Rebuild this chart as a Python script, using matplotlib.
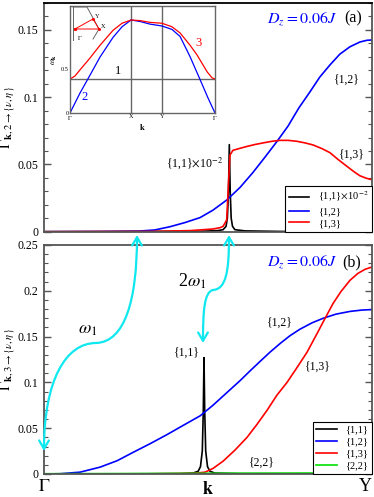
import numpy as np
import matplotlib
matplotlib.use('Agg')
import matplotlib.pyplot as plt
from matplotlib.patches import FancyArrowPatch
from matplotlib.path import Path
from matplotlib.ticker import MultipleLocator

plt.rcParams['font.family'] = ['Liberation Serif', 'DejaVu Serif']
plt.rcParams['mathtext.fontset'] = 'stix'

# ---- panel (a): Gamma_{k,2 -> {nu,eta}} ----
k_a12 = [0, 0.171, 0.287, 0.338, 0.384, 0.430, 0.476, 0.515, 0.558, 0.598, 0.637, 0.674,
         0.710, 0.744, 0.777, 0.811, 0.841, 0.872, 0.902, 0.933, 0.963, 0.985, 1.0]
g_a12 = [0, 0.0001, 0.0004, 0.0013, 0.0037, 0.0068, 0.0105, 0.016, 0.0237, 0.033, 0.044,
         0.0555, 0.067, 0.0785, 0.092, 0.104, 0.115, 0.124, 0.132, 0.1375, 0.141, 0.1423,
         0.1425]

k_a13 = [0, 0.323, 0.445, 0.515, 0.537, 0.546, 0.557, 0.562, 0.567, 0.576, 0.598, 0.619,
         0.643, 0.668, 0.695, 0.720, 0.744, 0.771, 0.796, 0.820, 0.848, 0.872, 0.896, 0.924,
         0.945, 0.963, 0.982, 1.0]
g_a13 = [0, 0.0002, 0.0008, 0.002, 0.003, 0.004, 0.0087, 0.0336, 0.057, 0.0605, 0.062,
         0.0634, 0.0648, 0.066, 0.0672, 0.0679, 0.0679, 0.0672, 0.066, 0.0645, 0.0617,
         0.0587, 0.0538, 0.0485, 0.0446, 0.0416, 0.0398, 0.0386]

k_a11 = [0, 0.476, 0.530, 0.546, 0.555, 0.559, 0.5625, 0.565, 0.5677, 0.5707, 0.5747,
         0.582, 0.613, 0.720, 1.0]
g_a11 = [0, 0.0003, 0.0008, 0.0015, 0.004, 0.01, 0.03, 0.0647, 0.03, 0.01, 0.004,
         0.0015, 0.0006, 0.0002, 0]

# ---- panel (b): Gamma_{k,3 -> {nu,eta}} ----
k_b12 = [0, 0.049, 0.110, 0.171, 0.223, 0.271, 0.323, 0.375, 0.424, 0.476, 0.515, 0.558,
         0.598, 0.628, 0.659, 0.689, 0.720, 0.750, 0.780, 0.817, 0.851, 0.890, 0.933,
         0.970, 1.0]
g_b12 = [0, 0.0003, 0.002, 0.0075, 0.0145, 0.0235, 0.033, 0.043, 0.053, 0.0635, 0.075,
         0.089, 0.102, 0.1125, 0.123, 0.133, 0.1425, 0.151, 0.158, 0.165, 0.170, 0.1745,
         0.1775, 0.179, 0.1795]

k_b13 = [0, 0.323, 0.460, 0.491, 0.515, 0.546, 0.582, 0.619, 0.649, 0.680, 0.710, 0.741,
         0.771, 0.802, 0.832, 0.857, 0.881, 0.905, 0.933, 0.957, 0.979, 1.0]
g_b13 = [0, 0.0002, 0.0008, 0.002, 0.006, 0.014, 0.026, 0.040, 0.054, 0.0695, 0.086,
         0.100, 0.116, 0.133, 0.153, 0.170, 0.186, 0.199, 0.2115, 0.219, 0.2235, 0.226]

k_b11 = [0, 0.415, 0.454, 0.470, 0.477, 0.4826, 0.4857, 0.4878, 0.4899, 0.4930, 0.4985,
         0.506, 0.521, 0.598, 1.0]
g_b11 = [0, 0.0003, 0.001, 0.003, 0.008, 0.025, 0.07, 0.127, 0.07, 0.025, 0.008,
         0.003, 0.001, 0.0003, 0]

k_b22 = [0, 0.232, 0.476, 0.720, 1.0]
g_b22 = [0.0003, 0.0005, 0.0008, 0.001, 0.0012]

# ---- inset: dispersion omega_k along Gamma-X-Y-Gamma ----
q_w2 = [0, 0.069, 0.138, 0.207, 0.297, 0.359, 0.421, 0.483, 0.552, 0.634, 0.703,
        0.759, 0.828, 0.897, 0.952, 1.0]
w2 = [0, 0.227, 0.43, 0.636, 0.86, 0.98, 1.057, 1.04, 1.01, 0.989, 0.95,
      0.87, 0.64, 0.38, 0.17, 0.0]
q_w3 = [0, 0.034, 0.069, 0.138, 0.207, 0.297, 0.359, 0.421, 0.483, 0.552, 0.634,
        0.703, 0.759, 0.828, 0.876, 0.945, 0.979, 1.0]
w3 = [0.386, 0.42, 0.49, 0.625, 0.77, 0.94, 1.02, 1.057, 1.05, 1.03, 1.02,
      0.98, 0.91, 0.77, 0.66, 0.47, 0.40, 0.386]
w1 = 0.386
q_ticks = [0, 0.421, 0.634, 1.0]
q_labels = [r'$\Gamma$', 'X', 'Y', r'$\Gamma$']

W, H = 374, 497
fig = plt.figure(figsize=(W / 100, H / 100), dpi=100)
ax_a = fig.add_axes([44 / W, 1 - 231.7 / H, 328 / W, 228.7 / H])
ax_b = fig.add_axes([44 / W, 1 - 474 / H, 328 / W, 229 / H])

spine_c = '#555555'
for ax in (ax_a, ax_b):
    ax.set_xlim(0, 1)
    for s in ax.spines.values():
        s.set_color(spine_c)
        s.set_linewidth(1.3)
    ax.yaxis.set_minor_locator(MultipleLocator(0.01))
    ax.yaxis.set_major_locator(MultipleLocator(0.05))
    ax.tick_params(axis='y', which='both', direction='in', left=True, right=True,
                   color=spine_c, labelsize=8.5, pad=4)
    ax.tick_params(axis='y', which='major', length=5, width=1)
    ax.tick_params(axis='y', which='minor', length=3, width=0.8)
    ax.tick_params(axis='x', length=0)
    ax.yaxis.set_major_formatter(plt.FuncFormatter(lambda v, p: '0' if v == 0 else f'{v:g}'))
ax_a.spines['top'].set_color('black')

# panel (a)
ax_a.set_ylim(0, 0.17)
ax_a.plot(k_a11, g_a11, color='black', lw=1.2, label=r'{1,1}$\times$10$^{-2}$')
ax_a.plot(k_a12, g_a12, color='blue', lw=1.2, label='{1,2}')
ax_a.plot(k_a13, g_a13, color='red', lw=1.2, label='{1,3}')
ax_a.set_xticks([])
ax_a.set_ylabel(r'$\Gamma_{\mathbf{k},2\rightarrow\{\nu,\eta\}}$', fontsize=11)
ax_a.yaxis.set_label_coords(-0.079, 0.5)
ax_a.text(0.924, 0.663, '{1,2}', transform=ax_a.transAxes, ha='center', va='center', fontsize=8.5)
ax_a.text(0.939, 0.335, '{1,3}', transform=ax_a.transAxes, ha='center', va='center', fontsize=8.5)
ax_a.text(0.546, 0.300, r'{1,1}$\times$10$^{-2}$', transform=ax_a.transAxes, ha='right',
          va='center', fontsize=8.5)
ax_a.text(0.787, 0.934, r'$D_z = 0.06J$', transform=ax_a.transAxes, ha='center', va='center',
          fontsize=11.5, color='blue')
ax_a.text(0.942, 0.934, '(a)', transform=ax_a.transAxes, ha='center', va='center', fontsize=11.5)
leg = ax_a.legend(loc='lower right', fontsize=7.5, frameon=True, fancybox=False,
                  edgecolor='black', framealpha=1, borderpad=0.35, labelspacing=0.25,
                  handlelength=2.0, handletextpad=0.8, borderaxespad=0.0)
leg.get_frame().set_linewidth(0.8)

# panel (b)
ax_b.set_ylim(0, 0.25)
ax_b.plot(k_b11, g_b11, color='black', lw=1.2, label='{1,1}')
ax_b.plot(k_b12, g_b12, color='blue', lw=1.2, label='{1,2}')
ax_b.plot(k_b13, g_b13, color='red', lw=1.2, label='{1,3}')
ax_b.plot(k_b22, g_b22, color='#00e000', lw=1.2, label='{2,2}')
ax_b.set_xticks([0, 1])
ax_b.set_xticklabels([r'$\Gamma$', 'Y'], fontsize=13)
ax_b.get_xticklabels()[1].set_horizontalalignment('right')
ax_b.tick_params(axis='x', pad=3)
ax_b.set_xlabel(r'$\mathbf{k}$', fontsize=13, labelpad=-10)
ax_b.set_ylabel(r'$\Gamma_{\mathbf{k},3\rightarrow\{\nu,\eta\}}$', fontsize=11)
ax_b.yaxis.set_label_coords(-0.079, 0.5)
ax_b.text(0.720, 0.659, '{1,2}', transform=ax_b.transAxes, ha='center', va='center', fontsize=8.5)
ax_b.text(0.835, 0.467, '{1,3}', transform=ax_b.transAxes, ha='center', va='center', fontsize=8.5)
ax_b.text(0.436, 0.528, '{1,1}', transform=ax_b.transAxes, ha='center', va='center', fontsize=8.5)
ax_b.text(0.665, 0.048, '{2,2}', transform=ax_b.transAxes, ha='center', va='center', fontsize=8.5)
ax_b.text(0.787, 0.926, r'$D_z = 0.06J$', transform=ax_b.transAxes, ha='center', va='center',
          fontsize=11.5, color='blue')
ax_b.text(0.939, 0.926, '(b)', transform=ax_b.transAxes, ha='center', va='center', fontsize=11.5)
leg = ax_b.legend(loc='lower right', fontsize=7.5, frameon=True, fancybox=False,
                  edgecolor='black', framealpha=1, borderpad=0.35, labelspacing=0.25,
                  handlelength=2.0, handletextpad=0.8, borderaxespad=0.0)
leg.get_frame().set_linewidth(0.8)

# inset
ins = fig.add_axes([70 / W, 1 - 113 / H, 145 / W, 107 / H])
ins.set_xlim(0, 1)
ins.set_ylim(0, 1.216)
for s in ins.spines.values():
    s.set_color('#666666')
    s.set_linewidth(1.0)
ins.axhline(w1, color='#666666', lw=1.0)
for q in q_ticks[1:3]:
    ins.axvline(q, color='#666666', lw=1.0)
ins.plot(q_w2, w2, color='blue', lw=0.9)
ins.plot(q_w3, w3, color='red', lw=0.9)
ins.set_xticks(q_ticks)
ins.set_xticklabels(q_labels, fontsize=4.5)
ins.set_yticks([0, 0.5])
ins.set_yticklabels(['0', '0.5'], fontsize=4.5)
ins.tick_params(length=0, pad=1)
ins.set_xlabel(r'$\mathbf{k}$', fontsize=6, labelpad=0)
ins.set_ylabel(r'$\omega_\mathbf{k}$', fontsize=6, labelpad=1)
ins.text(0.331, 0.393, '1', transform=ins.transAxes, ha='center', va='center', fontsize=9)
ins.text(0.103, 0.15, '2', transform=ins.transAxes, ha='center', va='center', fontsize=9,
         color='blue')
ins.text(0.883, 0.654, '3', transform=ins.transAxes, ha='center', va='center', fontsize=9,
         color='red')
# small Brillouin zone sketch
ins.plot([0.021, 0.117, 0.2, 0.159], [0.991, 0.991, 0.785, 0.692], color='#666666', lw=0.7,
         transform=ins.transAxes)
ins.plot([0.021, 0.021], [0.991, 0.682], color='#666666', lw=0.7, transform=ins.transAxes)
ins.plot([0.034, 0.159, 0.2, 0.034], [0.785, 0.879, 0.785, 0.785], color='red', lw=0.7,
         marker='o', ms=1.2, transform=ins.transAxes)
ins.text(0.045, 0.74, r'$\Gamma$', transform=ins.transAxes, fontsize=4.5, ha='left', va='top')
ins.text(0.17, 0.9, 'Y', transform=ins.transAxes, fontsize=4.5, ha='left', va='center')
ins.text(0.21, 0.81, 'X', transform=ins.transAxes, fontsize=4.5, ha='left', va='center')


# cyan connectors (figure pixel coordinates, y from top)
def fpath(pts, codes):
    return Path([(x / W, 1 - y / H) for x, y in pts], codes)


C4 = Path.CURVE4
cyan = '#10e8f0'
arrow1 = fpath([(137, 235), (137, 300), (125, 342), (96, 343),
                (66, 343), (44, 380), (44, 451)],
               [Path.MOVETO, C4, C4, C4, C4, C4, C4])
arrow2 = fpath([(229, 235), (229, 272), (226, 289), (213, 290),
                (204, 292), (203, 312), (203, 343)],
               [Path.MOVETO, C4, C4, C4, C4, C4, C4])
for p in (arrow1, arrow2):
    fa = FancyArrowPatch(path=p, arrowstyle='<->,head_length=0.6,head_width=0.35',
                         mutation_scale=10, color=cyan, lw=1.6, transform=fig.transFigure)
    fig.add_artist(fa)
fig.text(88 / W, 1 - 329 / H, r'$\omega_1$', fontsize=13, ha='center', va='center')
fig.text(192 / W, 1 - 281 / H, r'2$\omega_1$', fontsize=13, ha='center', va='center')

plt.savefig('out.png', dpi=100)
